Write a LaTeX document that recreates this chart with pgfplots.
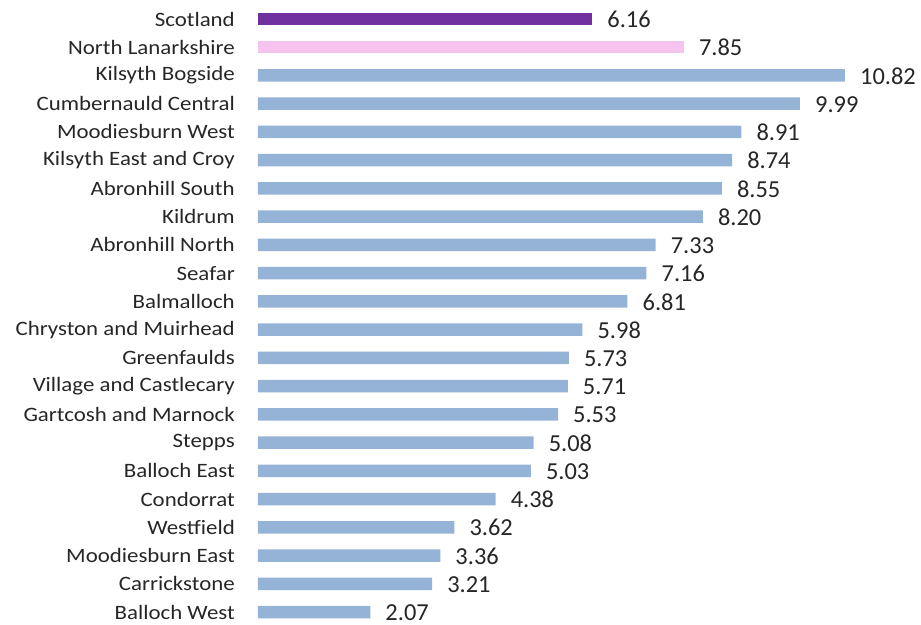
\documentclass[border=0pt]{standalone}
\usepackage{pgfplots}
\pgfplotsset{compat=1.18}
\usepackage{fontspec}
\setmainfont{Carlito}
\definecolor{scotland}{HTML}{7030A0}
\definecolor{nlan}{HTML}{F5C3EE}
\definecolor{ward}{HTML}{95B3D7}
\begin{document}
\begin{tikzpicture}
\begin{axis}[
  name=ax,
  scale only axis,
  width=651bp, height=621.3bp,
  xmin=0, xmax=12, ymin=-0.5, ymax=21.5,
  xbar, bar width=12.5bp, bar shift=0pt,
  hide x axis,
  y axis line style={draw=none},
  major tick length=0pt,
  ytick={0,...,21},
  yticklabels={Balloch West,Carrickstone,Moodiesburn East,Westfield,Condorrat,Balloch East,Stepps,Gartcosh and Marnock,Village and Castlecary,Greenfaulds,Chryston and Muirhead,Balmalloch,Seafar,Abronhill North,Kildrum,Abronhill South,Kilsyth East and Croy,Moodiesburn West,Cumbernauld Central,Kilsyth Bogside,North Lanarkshire,Scotland},
  yticklabel style={font=\fontsize{20.5}{24}\selectfont, text=black!85, inner sep=0pt, xshift=-23bp, xscale=1.12},
  clip=false,
  nodes near coords,
  nodes near coords style={font=\fontsize{24.5}{29}\selectfont, text=black!85, anchor=west, inner sep=0pt, xshift=15bp, yshift=-0.5bp},
  /pgf/number format/.cd, fixed, fixed zerofill, precision=2, assume math mode=true,
]
\addplot[fill=ward, draw=none] coordinates {
  (2.07,0) (3.21,1) (3.36,2) (3.62,3) (4.38,4) (5.03,5) (5.08,6)
  (5.53,7) (5.71,8) (5.73,9) (5.98,10) (6.81,11) (7.16,12) (7.33,13)
  (8.20,14) (8.55,15) (8.74,16) (8.91,17) (9.99,18) (10.82,19)
};
\addplot[fill=nlan, draw=none] coordinates {(7.85,20)};
\addplot[fill=scotland, draw=none] coordinates {(6.16,21)};
\coordinate (tl) at (axis cs:0,21);
\end{axis}
\pgfresetboundingbox
\path[use as bounding box] ([shift={(-258bp,19bp)}]tl) rectangle ([shift={(663bp,-606bp)}]tl);
\end{tikzpicture}
\end{document}
